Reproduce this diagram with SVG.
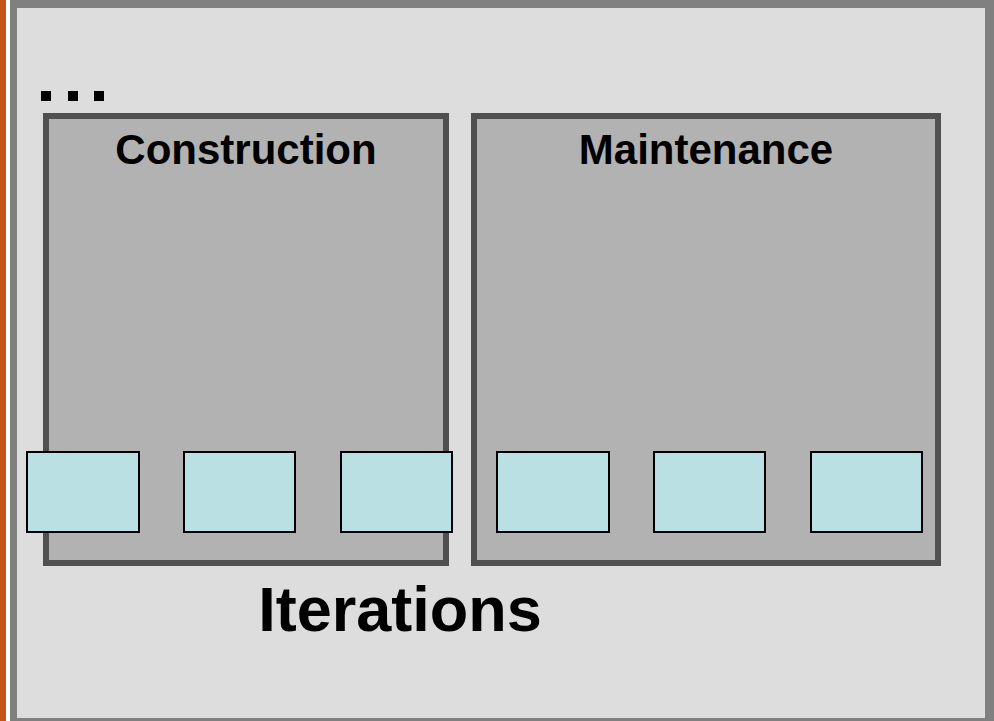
<svg xmlns="http://www.w3.org/2000/svg" width="994" height="721" viewBox="0 0 994 721">
<style>
.phase{fill:#B2B2B2;stroke:#505050;stroke-width:6}
.iter{fill:#BBE0E3;stroke:#000;stroke-width:2}
.lbl{font-family:"Liberation Sans",Arial,sans-serif;font-weight:bold;fill:#000;text-anchor:middle}
.dot{fill:#000}
</style>
<rect x="0" y="0" width="994" height="721" fill="#FFFFFF"/>
<rect x="0" y="0" width="6" height="721" fill="#C5561A"/>
<rect x="10" y="0" width="984" height="721" fill="#808080"/>
<rect x="17" y="8" width="968" height="710" fill="#DDDDDD"/>
<g id="dots">
<rect class="dot" x="41" y="91" width="10" height="10"/>
<rect class="dot" x="68" y="91" width="10" height="10"/>
<rect class="dot" x="94" y="91" width="10" height="10"/>
</g>
<g id="construction">
<rect class="phase" x="46" y="116" width="400" height="447"/>
<text class="lbl" x="246" y="164" font-size="42">Construction</text>
</g>
<g id="maintenance">
<rect class="phase" x="474" y="116" width="464" height="447"/>
<text class="lbl" x="706" y="164" font-size="42">Maintenance</text>
</g>
<g id="iter1"><rect class="iter" x="27" y="452" width="112" height="80"/></g>
<g id="iter2"><rect class="iter" x="184" y="452" width="111" height="80"/></g>
<g id="iter3"><rect class="iter" x="341" y="452" width="111" height="80"/></g>
<g id="iter4"><rect class="iter" x="497" y="452" width="112" height="80"/></g>
<g id="iter5"><rect class="iter" x="654" y="452" width="111" height="80"/></g>
<g id="iter6"><rect class="iter" x="811" y="452" width="111" height="80"/></g>
<g id="connectors"></g>
<g id="iterations-label">
<text class="lbl" x="400" y="631" font-size="63">Iterations</text>
</g>
</svg>
